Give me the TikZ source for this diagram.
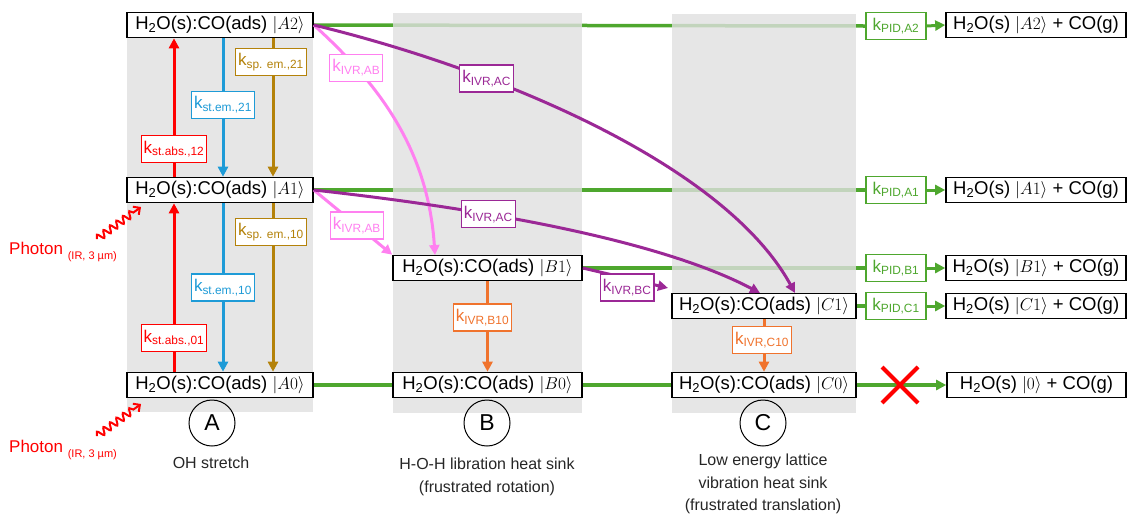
\documentclass[tikz,border=0pt]{standalone}
\usepackage{fontspec}
\setmainfont{Liberation Sans}
\usetikzlibrary{arrows.meta,decorations.pathmorphing}
\definecolor{grn}{RGB}{78,167,46}
\definecolor{pgray}{RGB}{224,224,224}
\definecolor{cblue}{RGB}{30,155,215}
\definecolor{cgold}{RGB}{180,130,10}
\definecolor{cpink}{RGB}{255,128,240}
\definecolor{cpurp}{RGB}{155,40,150}
\definecolor{corange}{RGB}{240,115,45}
\definecolor{ctext}{RGB}{38,38,38}
\pgfdeclarelayer{lines}
\pgfdeclarelayer{panels}
\pgfsetlayers{lines,panels,main}
\newcommand\myket[1]{$|#1\rangle$}
\newcommand\rsub[1]{\textsubscript{#1}}
\begin{document}
\begin{tikzpicture}[x=1pt,y=-1pt,
  font=\fontsize{18.5}{21}\selectfont,
  state/.style={draw, line width=1.6pt, fill=white, inner sep=0pt, minimum height=25pt},
  rate/.style={draw=#1, text=#1, line width=1.2pt, fill=white, inner sep=2.5pt,
    minimum height=27pt, font=\fontsize{17}{19}\selectfont},
  tip/.style={-{Triangle[length=10pt,width=10pt]}},
  flow/.style={line width=3pt, tip},
  panel/.style={fill=pgray, fill opacity=0.8},
  link/.style={draw=grn, line width=3.5pt},
  wave/.style={red, line width=2pt, decorate,
    decoration={snake, amplitude=3.5pt, segment length=8pt, post length=8pt},
    -{Straight Barb[length=5pt,width=10pt]}},
  caption/.style={text=ctext, align=center, font=\fontsize{16}{22.5}\selectfont},
  letter/.style={circle, draw, line width=1pt, minimum size=46pt, inner sep=0pt,
    font=\fontsize{23}{23}\selectfont},
]
\useasboundingbox (0,0) rectangle (1127,515);

% shaded columns of the three mode families
\begin{pgfonlayer}{panels}
  \fill[panel] (127,13) rectangle (313,412);
  \fill[panel] (393,13) rectangle (582,413);
  \fill[panel] (672,14) rectangle (856,413);
\end{pgfonlayer}

% vibrational states
\node[state, minimum width=186pt] (A2) at (220,25) {H\rsub{2}O(s):CO(ads) \myket{A2}};
\node[state, minimum width=186pt] (A1) at (220,190) {H\rsub{2}O(s):CO(ads) \myket{A1}};
\node[state, minimum width=186pt] (A0) at (220,385) {H\rsub{2}O(s):CO(ads) \myket{A0}};
\node[state, minimum width=189pt] (B1) at (487.5,268) {H\rsub{2}O(s):CO(ads) \myket{B1}};
\node[state, minimum width=189pt] (B0) at (487.5,385) {H\rsub{2}O(s):CO(ads) \myket{B0}};
\node[state, minimum width=184pt] (C1) at (764,306) {H\rsub{2}O(s):CO(ads) \myket{C1}};
\node[state, minimum width=184pt] (C0) at (764,385) {H\rsub{2}O(s):CO(ads) \myket{C0}};

% desorption products
\node[state, minimum width=180pt] (R2) at (1036,25) {H\rsub{2}O(s) \myket{A2} + CO(g)};
\node[state, minimum width=180pt] (R1) at (1036,190) {H\rsub{2}O(s) \myket{A1} + CO(g)};
\node[state, minimum width=180pt] (RB) at (1036,268) {H\rsub{2}O(s) \myket{B1} + CO(g)};
\node[state, minimum width=180pt] (RC) at (1036,306) {H\rsub{2}O(s) \myket{C1} + CO(g)};
\node[state, minimum width=179pt] (R0) at (1036.5,385) {H\rsub{2}O(s) \myket{0} + CO(g)};

% photodesorption rate labels
\node[rate=grn, minimum width=60pt] (P2) at (896,26) {k\rsub{PID,A2}};
\node[rate=grn, minimum width=60pt] (P1) at (896,190) {k\rsub{PID,A1}};
\node[rate=grn, minimum width=60pt] (PB) at (896,268) {k\rsub{PID,B1}};
\node[rate=grn, minimum width=60pt] (PC) at (896,306) {k\rsub{PID,C1}};

% desorption channels (run beneath the shaded columns)
\begin{pgfonlayer}{lines}
  \draw[link] (A2.east) -- (P2.west);
  \draw[link] (A1.east) -- (P1.west);
  \draw[link] (B1.east) -- (PB.west);
  \draw[link] (C1.east) -- (PC.west);
  \draw[link] (A0.east) -- (B0.west);
  \draw[link] (B0.east) -- (C0.west);
\end{pgfonlayer}
\draw[grn, flow] (P2.east) -- (R2.west);
\draw[grn, flow] (P1.east) -- (R1.west);
\draw[grn, flow] (PB.east) -- (RB.west);
\draw[grn, flow] (PC.east) -- (RC.west);
\draw[grn, line width=3.5pt, tip] (C0.east) -- (R0.west);
\draw[red, line width=4pt] (882,367) -- (918,403) (882,403) -- (918,367);

% OH stretch ladder
\coordinate (xr) at (174,0);
\coordinate (xb) at (223,0);
\coordinate (xg) at (273,0);
\draw[red, flow] (A0.north -| xr) -- node[rate=red, pos=0.2] {k\rsub{st.abs.,01}} (A1.south -| xr);
\draw[red, flow] (A1.north -| xr) -- node[rate=red, pos=0.2] {k\rsub{st.abs.,12}} (A2.south -| xr);
\draw[cblue, flow] (A2.south -| xb) -- node[rate=cblue, pos=0.48] {k\rsub{st.em.,21}} (A1.north -| xb);
\draw[cblue, flow] (A1.south -| xb) -- node[rate=cblue, pos=0.5] {k\rsub{st.em.,10}} (A0.north -| xb);
\draw[cgold, flow] (A2.south -| xg) -- node[rate=cgold, pos=0.17, xshift=-2pt] {k\rsub{sp. em.,21}} (A1.north -| xg);
\draw[cgold, flow] (A1.south -| xg) -- node[rate=cgold, pos=0.17, xshift=-2pt] {k\rsub{sp. em.,10}} (A0.north -| xg);

% intramolecular vibrational redistribution
\coordinate (b1in) at (435,255);
\coordinate (c1inA) at (795,293);
\coordinate (c1inB) at (760,293);
\coordinate (c1side) at (668,288);
\draw[cpink, flow] (A2.east) .. controls (380,85) and (428,150) .. node[rate=cpink, pos=0.23] {k\rsub{IVR,AB}} (b1in);
\draw[cpink, flow] (A1.east) -- node[rate=cpink, pos=0.55] {k\rsub{IVR,AB}} (B1.north west);
\draw[cpurp, flow] (A2.east) .. controls (500,70) and (725,165) .. node[rate=cpurp, pos=0.3] {k\rsub{IVR,AC}} (c1inA);
\draw[cpurp, flow] (A1.east) .. controls (450,205) and (650,235) .. node[rate=cpurp, pos=0.38] {k\rsub{IVR,AC}} (c1inB);
\draw[cpurp, flow] (B1.east) -- node[rate=cpurp, pos=0.52, yshift=-9pt] {k\rsub{IVR,BC}} (c1side);
\draw[corange, flow] (B1.south) -- node[rate=corange, pos=0.4, xshift=-5pt] {k\rsub{IVR,B10}} (B0.north);
\draw[corange, flow] (C1.south) -- node[rate=corange, pos=0.4, xshift=-2pt] {k\rsub{IVR,C10}} (C0.north);

% incoming infrared photons
\node[anchor=west, text=red, inner sep=0pt] (ph1) at (9,252) {\fontsize{17}{19}\selectfont Photon \raisebox{-0.5ex}{\fontsize{11}{12}\selectfont (IR, 3 µm)}};
\node[anchor=west, text=red, inner sep=0pt] (ph0) at (9,450) {\fontsize{17}{19}\selectfont Photon \raisebox{-0.5ex}{\fontsize{11}{12}\selectfont (IR, 3 µm)}};
\coordinate (w1s) at (97,239);
\coordinate (w1e) at (141,207);
\coordinate (w0s) at (97,436);
\coordinate (w0e) at (141,404);
\draw[wave] (w1s) -- (w1e);
\draw[wave] (w0s) -- (w0e);

% column identifiers
\node[letter] (LA) at (212,423) {A};
\node[letter] (LB) at (487,423) {B};
\node[letter] (LC) at (763,423) {C};
\node[caption] (TA) at (211,463) {OH stretch};
\node[caption] (TB) at (487,477) {H-O-H libration heat sink\\(frustrated rotation)};
\node[caption] (TC) at (763,484) {Low energy lattice\\vibration heat sink\\(frustrated translation)};
\end{tikzpicture}
\end{document}
